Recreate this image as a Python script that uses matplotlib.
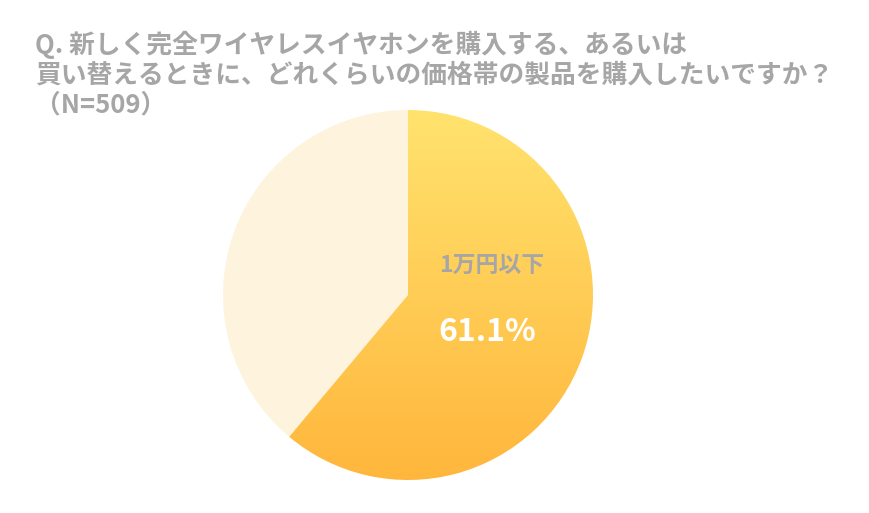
import numpy as np
import matplotlib
matplotlib.use("Agg")
import matplotlib.pyplot as plt
from matplotlib.colors import LinearSegmentedColormap

plt.rcParams['font.family'] = ['Noto Sans CJK JP', 'DejaVu Sans']

labels = ["1万円以下", "その他"]
values = [61.1, 38.9]
title_lines = [
    "Q. 新しく完全ワイヤレスイヤホンを購入する、あるいは",
    "買い替えるときに、どれくらいの価格帯の製品を購入したいですか？",
    "（N=509）",
]

fig = plt.figure(figsize=(8.7, 5.13), dpi=100)
ax = fig.add_axes([223 / 870, 33 / 513, 370 / 870, 370 / 513])
wedges, _ = ax.pie(values, startangle=90, counterclock=False,
                   colors=["none", "#FEF3DD"], radius=1)
ax.set_xlim(-1, 1)
ax.set_ylim(-1, 1)
ax.set_aspect("equal")
ax.axis("off")

cmap = LinearSegmentedColormap.from_list("g", ["#FFB63C", "#FFE36E"])
grad = np.linspace(0, 1, 256).reshape(-1, 1)
img = ax.imshow(grad, cmap=cmap, extent=[-1, 1, -1, 1], origin="lower",
                aspect="auto", zorder=1)
img.set_clip_path(wedges[0])

ax.text(0.45, 0.16, labels[0], ha="center", va="center", fontsize=16.5,
        color="#A6A6A6", fontweight="bold", zorder=3)
ax.text(0.43, -0.2, f"{values[0]}%", ha="center", va="center", fontsize=23,
        color="white", fontweight="bold", zorder=3)

for i, line in enumerate(title_lines):
    fig.text(35 / 870, 1 - (45 + 30 * i) / 513, line, ha="left", va="center",
             fontsize=18.5, color="#A6A6A6", fontweight="bold")

fig.savefig("out.png", dpi=100)
